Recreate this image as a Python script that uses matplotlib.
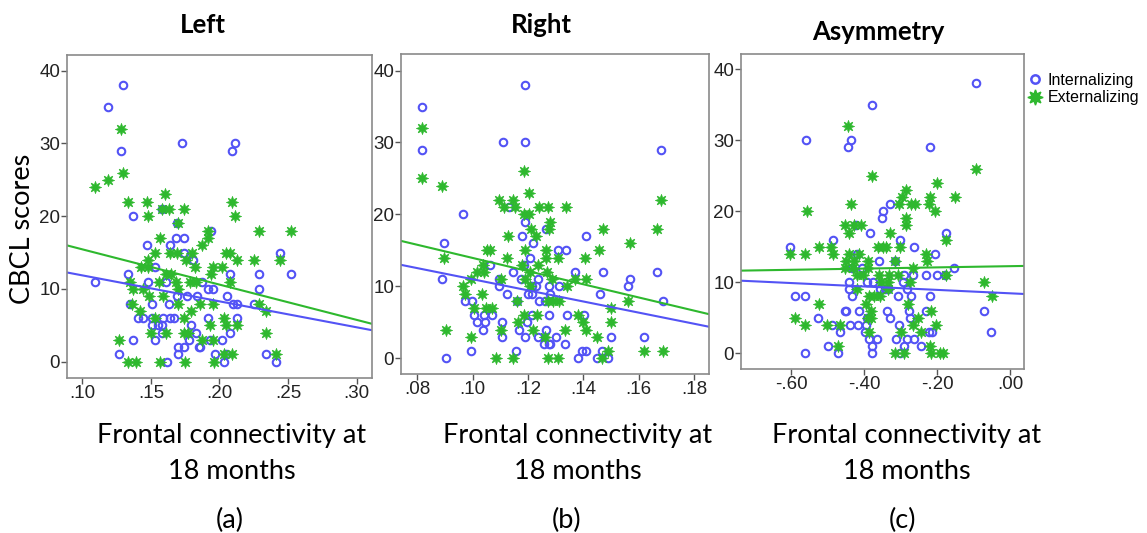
import matplotlib
matplotlib.use("Agg")
import matplotlib.pyplot as plt
from matplotlib.lines import Line2D
import numpy as np

# ---- data ----
# (a) Left
left_int_x = [.130, .119, .128, .173, .211, .209, .137, .158, .169, .194, .168, .174, .164, .147, .174, .181,
              .244, .153, .1335, .208, .229, .252, .109, .148, .161, .1875, .192, .1955, .229, .151, .135, .163,
              .169, .176, .184, .2055, .210, .213, .225, .141, .144, .151, .159, .164, .167, .192, .213, .1505,
              .155, .158, .179, .158, .183, .208, .137, .153, .178, .193, .202, .170, .174, .185, .186, .127,
              .170, .197, .205, .234, .1615, .203, .241]
left_int_y = [38, 35, 29, 30, 30, 29, 20, 21, 19, 18, 17, 17, 16, 16, 15, 14,
              15, 13, 12, 12, 12, 12, 11, 11, 11, 11, 10, 10, 10, 8, 8, 8,
              9, 9, 9, 9, 8, 8, 8, 6, 6, 6, 6, 6, 6, 6, 6, 5,
              5, 5, 5, 4, 4, 4, 3, 3, 3, 3, 3, 2, 2, 2, 2, 1,
              1, 1, 1, 1, 0, 0, 0]
left_ext_x = [.128, .130, .109, .119, .160, .1335, .147, .209, .148, .158, .163, .174, .211, .170, .192, .229,
              .252, .192, .157, .187, .153, .164, .169, .180, .205, .208, .148, .1756, .213, .225, .244, .1425,
              .148, .182, .1955, .202, .161, .165, .1935, .135, .156, .168, .1785, .183, .208, .137, .144, .170,
              .149, .159, .136, .170, .186, .195, .229, .142, .179, .234, .153, .1745, .203, .193, .205, .213,
              .150, .161, .174, .177, .234, .127, .187, .1955, .203, .209, .241, .1335, .139, .157, .175, .196]
left_ext_y = [32, 26, 24, 25, 23, 22, 22, 22, 20, 21, 21, 21, 20, 19, 18, 18,
              18, 17, 17, 16, 15, 15, 15, 15, 15, 15, 14, 14, 14, 14, 14, 13,
              13, 13, 13, 13, 12, 12, 12, 11, 11, 11, 11, 11, 11, 10, 10, 10,
              9, 9, 8, 8, 8, 8, 8, 7, 7, 7, 6, 6, 6, 5, 5, 5,
              4, 4, 4, 4, 4, 3, 3, 3, 1, 1, 1, 0, 0, 0, 0, 0]

# (b) Right
right_int_x = [.1188, .0816, .0816, .111, .119, .168, .0966, .113, .119, .118, .1265, .141, .0895, .1217, .1207,
               .131, .1337, .1063, .1184, .1147, .1369, .1472, .1665, .089, .1095, .1175, .1235, .1569, .1095,
               .1213, .123, .1276, .1313, .1563, .1123, .1201, .1213, .128, .1459, .0972, .0996, .1159, .124,
               .126, .1688, .1005, .104, .107, .1213, .1275, .134, .1404, .1015, .1043, .1105, .1195, .1036,
               .1169, .1264, .1105, .1189, .1235, .130, .150, .1618, .0994, .1157, .1394, .141, .1469, .1259,
               .1275, .128, .1333, .0902, .1382, .1448, .149]
right_int_y = [38, 35, 29, 30, 30, 29, 20, 21, 19, 17, 18, 17, 16, 16, 14,
               15, 15, 13, 13, 12, 12, 12, 12, 11, 11, 11, 11, 11, 10,
               10, 10, 10, 10, 10, 9, 9, 9, 9, 9, 8, 8, 8, 8,
               8, 8, 6, 6, 6, 6, 6, 6, 6, 5, 5, 5, 5, 4,
               4, 4, 3, 3, 3, 3, 3, 3, 1, 1, 1, 1, 1, 2,
               2, 2, 2, 0, 0, 0, 0]
right_ext_x = [.0816, .0816, .089, .1187, .1203, .1095, .1115, .1147, .1152, .1203, .1185, .124, .1274, .1336,
               .128, .1276, .121, .1229, .1129, .1472, .1569, .1665, .168, .105, .1064, .119, .1264, .1457,
               .0896, .1123, .1265, .131, .1405, .1039, .1178, .1235, .1015, .104, .1207, .127, .0995, .1102,
               .119, .1286, .1368, .141, .0966, .1207, .134, .0972, .1035, .1159, .1274, .1292, .1313, .1563,
               .1005, .1047, .1071, .150, .1185, .1234, .1382, .1103, .1163, .1400, .150, .0904, .1219, .1334,
               .141, .0995, .1262, .145, .149, .1618, .1688, .1084, .1147, .1274, .1307, .1466]
right_ext_y = [32, 25, 24, 26, 23, 22, 21, 22, 21, 20, 20, 21, 21, 21,
               19, 18, 18, 17, 17, 18, 16, 18, 22, 15, 15, 15, 15, 15,
               14, 14, 14, 14, 14, 13, 13, 13, 12, 12, 12, 12, 11, 11,
               11, 11, 11, 11, 10, 10, 10, 9, 9, 8, 8, 8, 8, 8,
               7, 7, 7, 7, 6, 6, 6, 4, 5, 5, 5, 4, 4, 4,
               4, 3, 3, 3, 1, 1, 1, 0, 0, 0, 0, 0]

# (c) Asymmetry
asym_int_x = [-.092, -.378, -.559, -.436, -.443, -.219, -.329, -.347, -.351, -.421, -.384, -.174, -.486, -.300,
              -.603, -.262, -.420, -.206, -.360, -.315, -.434, -.405, -.153, -.440, -.291, -.265, -.229, -.201,
              -.177, -.391, -.374, -.294, -.441, -.356, -.342, -.333, -.283, -.588, -.562, -.433, -.308, -.272,
              -.218, -.071, -.451, -.448, -.413, -.338, -.277, -.231, -.525, -.393, -.329, -.274, -.489, -.439,
              -.417, -.394, -.303, -.466, -.397, -.223, -.213, -.051, -.385, -.365, -.313, -.283, -.264, -.498,
              -.379, -.290, -.244, -.562, -.470, -.378, -.301]
asym_int_y = [38, 35, 30, 30, 29, 29, 21, 20, 19, 18, 17, 17, 16, 16,
              15, 15, 14, 14, 13, 13, 12, 12, 12, 10, 11, 11, 11, 11,
              11, 10, 10, 10, 9, 9, 9, 9, 9, 8, 8, 8, 8, 8,
              8, 6, 6, 6, 6, 6, 6, 6, 5, 5, 5, 5, 4, 4,
              4, 4, 4, 3, 3, 3, 3, 3, 2, 2, 2, 2, 2, 1,
              1, 1, 1, 0, 0, 0, 0]
asym_ext_x = [-.443, -.378, -.094, -.557, -.436, -.285, -.297, -.303, -.271, -.260, -.219, -.221, -.201, -.206,
              -.151, -.452, -.428, -.407, -.285, -.285, -.440, -.329, -.176, -.522, -.491, -.361, -.347, -.340,
              -.301, -.603, -.562, -.486, -.440, -.413, -.230, -.450, -.427, -.390, -.315, -.228, -.452, -.429,
              -.390, -.265, -.420, -.402, -.358, -.332, -.306, -.174, -.353, -.334, -.275, -.071, -.420, -.334,
              -.385, -.372, -.356, -.049, -.524, -.395, -.279, -.382, -.217, -.382, -.589, -.251, -.388, -.562,
              -.500, -.465, -.267, -.203, -.385, -.299, -.244, -.472, -.219, -.315, -.290, -.217, -.192, -.183]
asym_ext_y = [32, 25, 26, 20, 21, 23, 22, 21, 21, 21, 22, 21, 24, 20,
              22, 18, 18, 18, 19, 18, 17, 17, 16, 15, 15, 15, 15, 15,
              15, 14, 14, 14, 14, 14, 14, 13, 13, 13, 13, 13, 12, 12,
              12, 12, 11, 11, 11, 11, 11, 11, 10, 10, 10, 10, 9, 9,
              8, 8, 8, 8, 7, 7, 7, 6, 6, 5, 5, 5, 5, 4,
              4, 4, 4, 4, 3, 3, 3, 1, 1, 0, 0, 0, 0, 0]

# fit lines (intercept, slope) as drawn in the figure
fit_int = {"a": (15.44, -35.7), "b": (18.72, -77.3), "c": (8.45, -2.41)}
fit_ext = {"a": (20.3, -48.5), "b": (23.1, -91.5), "c": (12.27, 0.85)}

titles = ["Left", "Right", "Asymmetry"]
tags = ["(a)", "(b)", "(c)"]
xticks = {"a": [.10, .15, .20, .25, .30], "b": [.08, .10, .12, .14, .16, .18], "c": [-.60, -.40, -.20, .00]}
yticks = [0, 10, 20, 30, 40]

BLUE = "#5353f5"
GREEN = "#2eb82e"
FRAME = "#8a8a8a"
W, H = 1147, 533

plt.rcParams["font.family"] = ["Liberation Sans Narrow", "Liberation Sans", "DejaVu Sans"]
label_font = ["Lato", "DejaVu Sans"]

fig = plt.figure(figsize=(W / 100, H / 100), dpi=100)

# axes boxes in pixels: left, right, top, bottom
boxes = {"a": (67, 372, 55, 378), "b": (401, 709, 54, 374), "c": (741, 1024, 54, 369)}
xlims = {"a": (.0889, .3112), "b": (.0741, .1854), "c": (-.737, .0384)}
ylims = {"a": (-2.24, 42.16), "b": (-2.18, 42.3), "c": (-2.21, 42.15)}
data = {"a": (left_int_x, left_int_y, left_ext_x, left_ext_y),
        "b": (right_int_x, right_int_y, right_ext_x, right_ext_y),
        "c": (asym_int_x, asym_int_y, asym_ext_x, asym_ext_y)}


def fmt(v):
    s = "%.2f" % v
    return s.replace("0.", ".", 1)


for key in ["a", "b", "c"]:
    l, r, t, b = boxes[key]
    ax = fig.add_axes([l / W, 1 - b / H, (r - l) / W, (b - t) / H])
    ix, iy, ex, ey = data[key]
    ax.plot(ix, iy, "o", ms=5.4, mfc="none", mec=BLUE, mew=1.5, ls="none")
    ax.plot(ex, ey, marker=(8, 1, 0), ms=9, color=GREEN, mec=GREEN, mew=0.4, ls="none")
    xs = np.array(xlims[key])
    ax.plot(xs, fit_int[key][0] + fit_int[key][1] * xs, color=BLUE, lw=1.5)
    ax.plot(xs, fit_ext[key][0] + fit_ext[key][1] * xs, color=GREEN, lw=1.5)
    ax.set_xlim(xlims[key])
    ax.set_ylim(ylims[key])
    ax.set_xticks(xticks[key])
    ax.set_xticklabels([fmt(v) for v in xticks[key]])
    ax.set_yticks(yticks)
    for sp in ax.spines.values():
        sp.set_color(FRAME)
        sp.set_linewidth(1.2)
    ax.tick_params(direction="out", length=4, width=1, color="#555555", labelsize=13.5,
                   labelcolor="#222222", pad=1)

# titles
fig.text(203 / W, 1 - 33 / H, "Left", ha="center", va="baseline", fontsize=18.5,
         fontweight="bold", family=label_font)
fig.text(541 / W, 1 - 33 / H, "Right", ha="center", va="baseline", fontsize=18.5,
         fontweight="bold", family=label_font)
fig.text(878 / W, 1 - 40 / H, "Asymmetry", ha="center", va="baseline", fontsize=18.5,
         fontweight="bold", family=label_font)

# y label
fig.text(22 / W, 1 - 229 / H, "CBCL scores", rotation=90, ha="center", va="center",
         fontsize=19.5, family=label_font)

# x labels and panel tags
for cx, tx, tag in [(232, 230, "(a)"), (578, 567, "(b)"), (907, 903, "(c)")]:
    fig.text(cx / W, 1 - 443 / H, "Frontal connectivity at", ha="center", va="baseline",
             fontsize=19.5, family=label_font)
    fig.text(cx / W, 1 - 479 / H, "18 months", ha="center", va="baseline",
             fontsize=19.5, family=label_font)
    fig.text(tx / W, 1 - 520 / H, tag, ha="center", va="center", fontsize=19.5, family=label_font)

# legend
handles = [Line2D([], [], marker="o", ls="none", ms=6, mfc="none", mec=BLUE, mew=1.8),
           Line2D([], [], marker=(8, 1, 0), ls="none", ms=11, color=GREEN)]
fig.legend(handles, ["Internalizing", "Externalizing"], loc="upper left",
           bbox_to_anchor=(1027 / W, 1 - 73 / H), frameon=False, handlelength=1.0,
           handletextpad=0.3, borderaxespad=0, borderpad=0, labelspacing=0.15,
           prop={"family": ["Liberation Sans", "DejaVu Sans"], "size": 11.5})

fig.savefig("out.png", dpi=100, facecolor="white")
